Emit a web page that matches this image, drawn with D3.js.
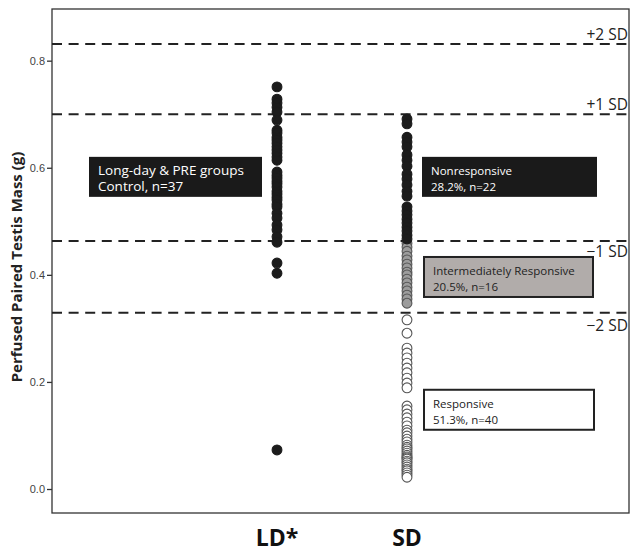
<!DOCTYPE html>
<html>
<head>
<meta charset="utf-8">
<script src="https://cdn.jsdelivr.net/npm/d3@7"></script>
<style>
  html, body { margin: 0; padding: 0; background: #fff; }
  svg { display: block; }
</style>
</head>
<body>
<svg id="chart" width="631" height="552"></svg>
<script>
// Groups on the x axis
const groups = ["LD*", "SD"];

// Long-day & PRE control animals (n = 37)
const ldValues = [0.751, 0.728, 0.721, 0.713, 0.704, 0.689, 0.670, 0.665, 0.657, 0.652,
  0.646, 0.639, 0.633, 0.627, 0.620, 0.614, 0.592, 0.586, 0.581, 0.575,
  0.570, 0.564, 0.556, 0.551, 0.545, 0.540, 0.532, 0.527, 0.515, 0.506,
  0.493, 0.484, 0.471, 0.461, 0.422, 0.403, 0.073];

// Short-day animals, split by response class
const sdNonresponsive = [0.691, 0.682, 0.657, 0.648, 0.639, 0.624, 0.614, 0.603, 0.588, 0.579,
  0.568, 0.556, 0.547, 0.527, 0.519, 0.512, 0.504, 0.497, 0.489, 0.482, 0.474, 0.467];
const sdIntermediate = [0.459, 0.452, 0.444, 0.435, 0.428, 0.420, 0.413, 0.405, 0.400, 0.392,
  0.385, 0.377, 0.370, 0.362, 0.355, 0.347];
const sdResponsive = [0.316, 0.291, 0.263, 0.254, 0.245, 0.235, 0.226, 0.217, 0.207, 0.198,
  0.189, 0.155, 0.148, 0.140, 0.133, 0.125, 0.118, 0.110, 0.105, 0.099,
  0.093, 0.088, 0.082, 0.078, 0.075, 0.071, 0.067, 0.063, 0.060, 0.058,
  0.056, 0.052, 0.049, 0.045, 0.041, 0.037, 0.034, 0.030, 0.026, 0.022];

// Reference lines (mean ± SD of the control group)
const sdLineLabels = ["+2 SD", "+1 SD", "\u22121 SD", "\u22122 SD"];
const sdLineValues = [0.831, 0.700, 0.463, 0.329];

const yTicks = [0.0, 0.2, 0.4, 0.6, 0.8];

// Annotation boxes
const boxLines = [
  ["Long-day & PRE groups", "Control, n=37"],
  ["Nonresponsive", "28.2%, n=22"],
  ["Intermediately Responsive", "20.5%, n=16"],
  ["Responsive", "51.3%, n=40"]
];
const boxAnchors = [0.583, 0.583, 0.396, 0.148];

const svg = d3.select("#chart");
const plot = { left: 52, top: 9, right: 629, bottom: 513 };

const y = d3.scaleLinear().domain([-0.0448, 0.8965]).range([plot.bottom, plot.top]);
const x = d3.scalePoint().domain(groups).range([277, 407]);

// Frame
svg.append("rect")
  .attr("x", plot.left).attr("y", plot.top)
  .attr("width", plot.right - plot.left).attr("height", plot.bottom - plot.top)
  .attr("fill", "none").attr("stroke", "#333").attr("stroke-width", 1.3);

// Y axis
const yAxis = d3.axisLeft(y).tickValues(yTicks).tickFormat(d3.format(".1f"))
  .tickSize(5).tickPadding(2);
const ya = svg.append("g").attr("transform", `translate(${plot.left},0)`).call(yAxis);
ya.select(".domain").remove();
ya.selectAll(".tick line").attr("stroke", "#333").attr("stroke-width", 1.3);
ya.selectAll(".tick text").attr("fill", "#444")
  .style("font-family", "'Liberation Sans', Arial, sans-serif").style("font-size", "11px");

// Y axis title
svg.append("text")
  .attr("transform", `translate(22,${(plot.top + plot.bottom) / 2 + 6}) rotate(-90)`)
  .attr("text-anchor", "middle")
  .style("font-family", "'Open Sans', sans-serif").style("font-weight", "700")
  .style("font-size", "15px").attr("fill", "#222")
  .text("Perfused Paired Testis Mass (g)");

// Category labels
svg.selectAll(".cat").data(groups).join("text")
  .attr("class", "cat")
  .attr("x", d => x(d)).attr("y", 546)
  .attr("text-anchor", "middle")
  .style("font-family", "'Open Sans', sans-serif").style("font-weight", "700")
  .style("font-size", "23px").attr("fill", "#111")
  .text(d => d);

// Dashed SD lines
svg.selectAll(".sdline").data(sdLineValues).join("line")
  .attr("x1", plot.left).attr("x2", plot.right)
  .attr("y1", d => y(d)).attr("y2", d => y(d))
  .attr("stroke", "#222").attr("stroke-width", 2)
  .attr("stroke-dasharray", "10,6.6");

svg.selectAll(".sdlab").data(sdLineLabels).join("text")
  .attr("x", 628)
  .attr("y", (d, i) => y(sdLineValues[i]) + (i < 2 ? -4 : (i === 2 ? 16 : 18)))
  .attr("text-anchor", "end")
  .style("font-family", "'Open Sans', sans-serif").style("font-size", "15.5px")
  .attr("fill", "#222")
  .text(d => d);

// Points
function drawPoints(values, group, fill, stroke) {
  svg.append("g").selectAll("circle").data(values).join("circle")
    .attr("cx", x(group)).attr("cy", d => y(d)).attr("r", 4.9)
    .attr("fill", fill).attr("stroke", stroke).attr("stroke-width", 1.1);
}
drawPoints(ldValues, "LD*", "#1c1c1c", "#1c1c1c");
drawPoints(sdResponsive, "SD", "#fff", "#555");
drawPoints(sdIntermediate, "SD", "#9c9c9c", "#555");
drawPoints(sdNonresponsive, "SD", "#1c1c1c", "#1c1c1c");

// Annotation boxes
const boxStyles = [
  { x: 89, w: 173, fill: "#1a1a1a", stroke: "none", text: "#fff", size: 13.5 },
  { x: 422, w: 175, fill: "#1a1a1a", stroke: "none", text: "#fff", size: 11.5 },
  { x: 424, w: 169, fill: "#b1acaa", stroke: "#222", text: "#222", size: 11.5 },
  { x: 424, w: 170, fill: "#fff", stroke: "#222", text: "#222", size: 11.5 }
];
const boxH = 40;
boxLines.forEach((lines, i) => {
  const s = boxStyles[i];
  const cy = y(boxAnchors[i]);
  const g = svg.append("g");
  g.append("rect")
    .attr("x", s.x).attr("y", cy - boxH / 2).attr("width", s.w).attr("height", boxH)
    .attr("fill", s.fill).attr("stroke", s.stroke).attr("stroke-width", 2);
  lines.forEach((t, j) => {
    g.append("text")
      .attr("x", s.x + 9).attr("y", cy - 2 + j * 16.5)
      .style("font-family", "'Open Sans', sans-serif").style("font-size", s.size + "px")
      .attr("fill", s.text)
      .text(t);
  });
});
</script>
</body>
</html>
